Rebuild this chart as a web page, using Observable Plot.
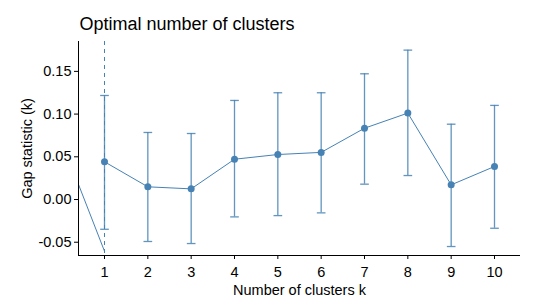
<!DOCTYPE html>
<html>
<head>
<meta charset="utf-8">
<script src="https://cdn.jsdelivr.net/npm/d3@7"></script>
<script src="https://cdn.jsdelivr.net/npm/@observablehq/plot@0.6"></script>
<style>
  html, body { margin: 0; padding: 0; background: #fff; }
  #chart svg { display: block; font-family: "Liberation Sans", Arial, sans-serif; }
</style>
</head>
<body>
<div id="chart"></div>
<script>
const clusters = [1, 2, 3, 4, 5, 6, 7, 8, 9, 10];
const gap = [0.043, 0.0137, 0.0113, 0.046, 0.0515, 0.054, 0.0823, 0.1, 0.016, 0.0375];
const gapLower = [-0.036, -0.0503, -0.0527, -0.0215, -0.020, -0.0168, 0.0168, 0.0269, -0.0562, -0.0348];
const gapUpper = [0.1206, 0.0773, 0.0761, 0.1148, 0.1238, 0.1238, 0.146, 0.1737, 0.087, 0.109];
const yTicks = [-0.05, 0, 0.05, 0.10, 0.15];
const optimalK = [1];
const strayX = [0.4, 1];
const strayY = [0.0165, -0.0617];

const data = clusters.map((k, i) => ({k, gap: gap[i], lo: gapLower[i], hi: gapUpper[i]}));
const stray = strayX.map((x, i) => ({x, y: strayY[i]}));
const capHalf = 0.1;
const color = "#4682B4";

const chart = Plot.plot({
  width: 541,
  height: 307,
  marginLeft: 78,
  marginRight: 21,
  marginTop: 41,
  marginBottom: 52,
  style: {fontFamily: "'Liberation Sans', Arial, sans-serif", color: "black", background: "white"},
  x: {domain: [0.4, 10.6]},
  y: {domain: [-0.0667, 0.1838]},
  marks: [
    Plot.ruleX(optimalK, {x: d => d, stroke: color, strokeWidth: 1, strokeDasharray: "4,4"}),
    Plot.line(stray, {x: "x", y: "y", stroke: color, strokeWidth: 1, clip: true}),
    Plot.ruleX(data, {x: "k", y1: "lo", y2: "hi", stroke: color, strokeWidth: 1.3, strokeOpacity: 0.85}),
    Plot.link(data, {x1: d => d.k - capHalf, x2: d => d.k + capHalf, y1: "hi", y2: "hi", stroke: color, strokeWidth: 1.3, strokeOpacity: 0.85}),
    Plot.link(data, {x1: d => d.k - capHalf, x2: d => d.k + capHalf, y1: "lo", y2: "lo", stroke: color, strokeWidth: 1.3, strokeOpacity: 0.85}),
    Plot.line(data, {x: "k", y: "gap", stroke: color, strokeWidth: 1}),
    Plot.dot(data, {x: "k", y: "gap", r: 3.5, fill: color, stroke: "none"}),
    Plot.axisX({ticks: clusters, tickFormat: d => String(d), tickSize: 4, tickPadding: 7, fontSize: 14.5, label: null, stroke: "black"}),
    Plot.axisY({ticks: yTicks, tickFormat: d => d.toFixed(2), tickSize: 4, tickPadding: 3, dy: 1, fontSize: 14.5, label: null, stroke: "black"}),
    Plot.ruleX([0.4], {x: d => d, stroke: "black", strokeWidth: 1}),
    Plot.ruleY([-0.0667], {y: d => d, stroke: "black", strokeWidth: 1}),
    Plot.text(["Gap statistic (k)"], {frameAnchor: "left", dx: -51, rotate: -90, textAnchor: "middle", fontSize: 14.5, fill: "black"}),
    Plot.text(["Number of clusters k"], {frameAnchor: "bottom", dy: 39, fontSize: 14.5, fill: "black"}),
    Plot.text(["Optimal number of clusters"], {frameAnchor: "top-left", dy: -24, dx: 1, textAnchor: "start", fontSize: 18, fill: "black"})
  ]
});
document.getElementById("chart").appendChild(chart);
</script>
</body>
</html>
